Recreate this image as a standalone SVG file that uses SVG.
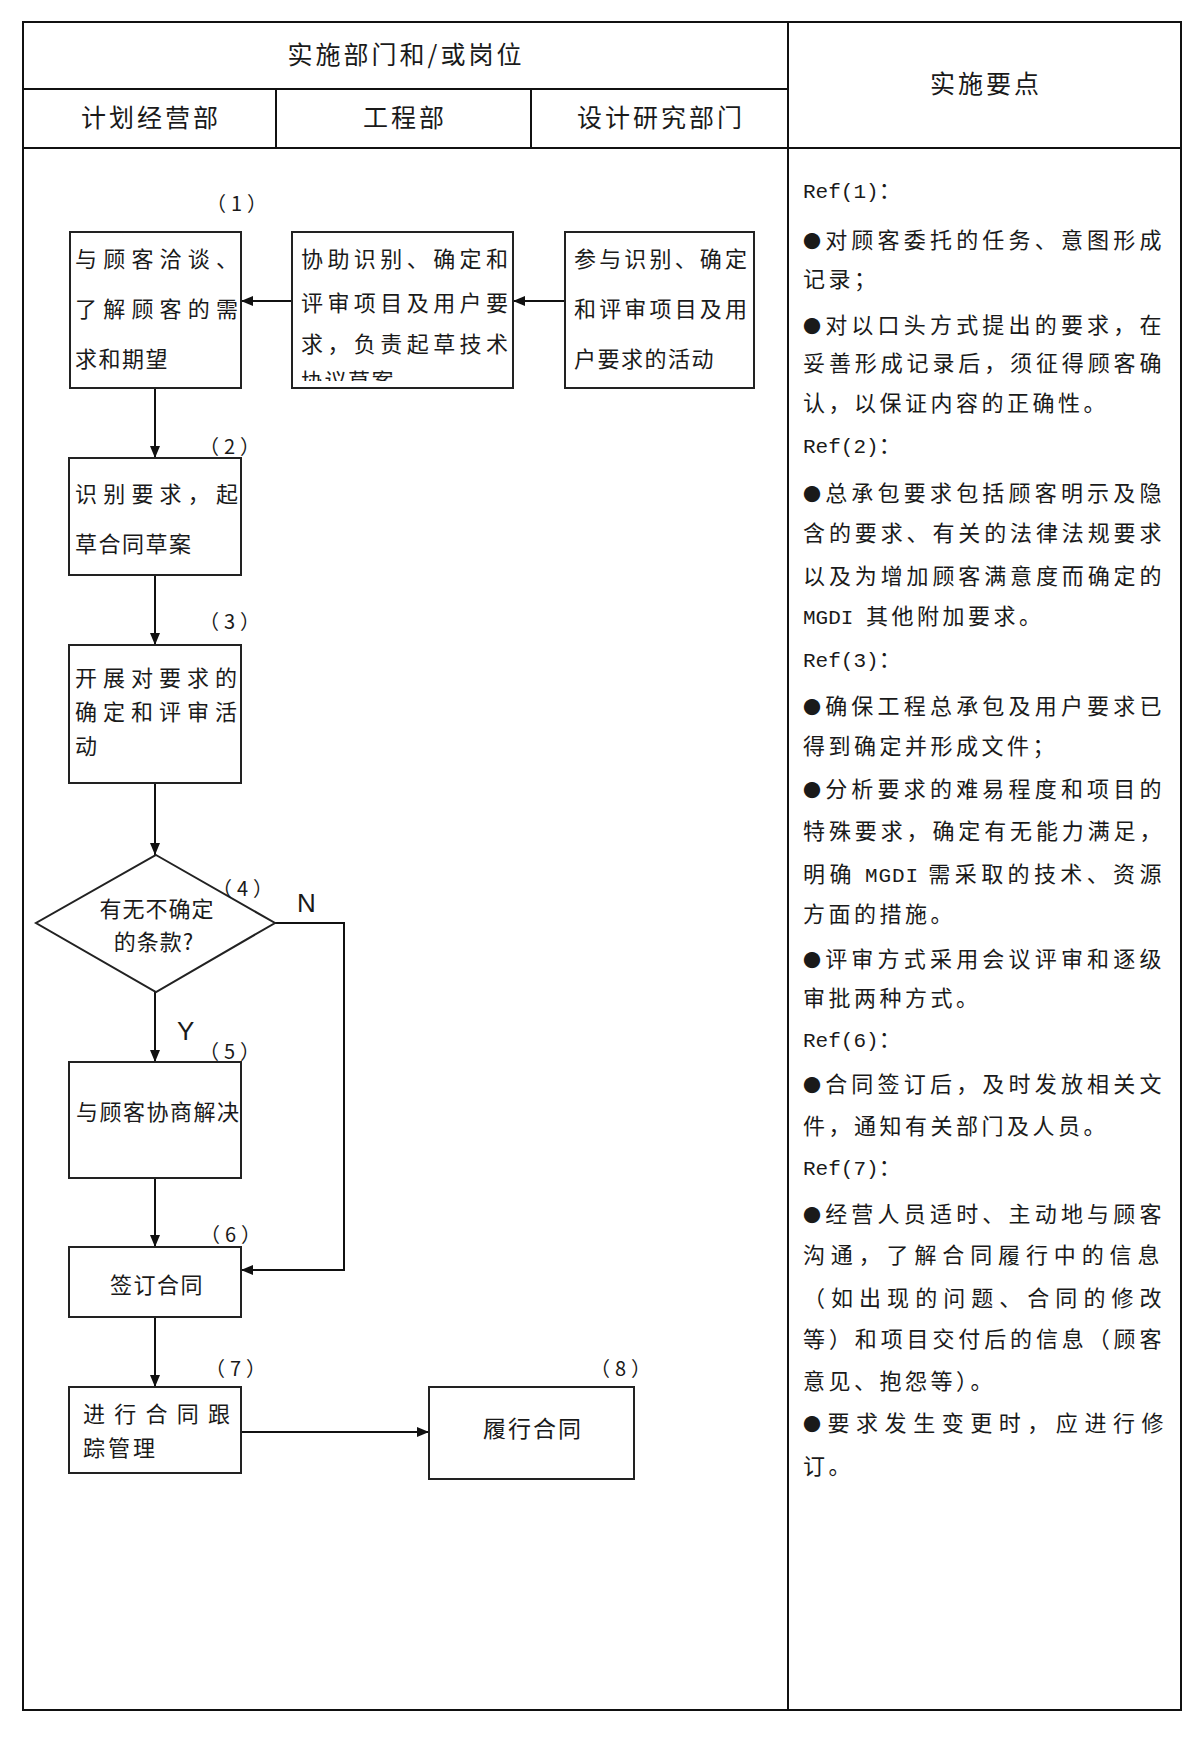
<svg xmlns="http://www.w3.org/2000/svg" width="1196" height="1740" viewBox="0 0 1196 1740">
<style>
.t{font-family:"Noto Sans CJK SC","Noto Sans",sans-serif;fill:#1a1a1a}
.hdr{font-size:25px;letter-spacing:3px}
.bx{font-size:22px;letter-spacing:1.5px}
.j{letter-spacing:0}
.note{font-size:22px;letter-spacing:3.5px}
.lbl{font-size:20px;letter-spacing:5px}
.b{font-size:18px}
.yn{font-family:"Liberation Sans",Arial,sans-serif;font-size:26px;fill:#1a1a1a}
.mono{font-family:"Liberation Mono",monospace;font-size:21px;letter-spacing:0}
.tbl{stroke:#111;stroke-width:2;fill:none}
.shape{fill:#fff;stroke:#222;stroke-width:2}
.conn{stroke:#111;stroke-width:2;fill:none;marker-end:url(#ah)}
</style>
<defs>
<marker id="ah" viewBox="0 0 12 10" refX="12" refY="5" markerWidth="12" markerHeight="10" markerUnits="userSpaceOnUse" orient="auto">
<path d="M0,0 L12,5 L0,10 z" fill="#111"/>
</marker>
<clipPath id="clip2"><rect x="292" y="232" width="221" height="149"/></clipPath>
</defs>
<rect width="1196" height="1740" fill="#fff"/>

<g id="table">
<rect class="tbl" x="23" y="22" width="1158" height="1688"/>
<line class="tbl" x1="23" y1="22" x2="1181" y2="22" stroke-width="3"/>
<line class="tbl" x1="23" y1="1710" x2="1181" y2="1710" stroke-width="3.5"/>
<line class="tbl" x1="788" y1="22" x2="788" y2="1710"/>
<line class="tbl" x1="23" y1="89" x2="788" y2="89"/>
<line class="tbl" x1="23" y1="148" x2="1181" y2="148"/>
<line class="tbl" x1="276" y1="89" x2="276" y2="148"/>
<line class="tbl" x1="531" y1="89" x2="531" y2="148"/>
<text class="t hdr" x="406" y="64" text-anchor="middle">实施部门和/或岗位</text>
<text class="t hdr" x="986" y="93" text-anchor="middle">实施要点</text>
<text class="t hdr" x="151" y="127" text-anchor="middle">计划经营部</text>
<text class="t hdr" x="405" y="127" text-anchor="middle">工程部</text>
<text class="t hdr" x="661" y="127" text-anchor="middle">设计研究部门</text>
</g>

<g id="connectors">
<line class="conn" x1="292" y1="301" x2="241" y2="301"/>
<line class="conn" x1="565" y1="301" x2="513" y2="301"/>
<line class="conn" x1="155" y1="388" x2="155" y2="458"/>
<line class="conn" x1="155" y1="575" x2="155" y2="645"/>
<line class="conn" x1="155" y1="783" x2="155" y2="855"/>
<line class="conn" x1="155" y1="992" x2="155" y2="1062"/>
<line class="conn" x1="155" y1="1178" x2="155" y2="1247"/>
<polyline class="conn" points="275,923 344,923 344,1270 241,1270"/>
<line class="conn" x1="155" y1="1317" x2="155" y2="1387"/>
<line class="conn" x1="241" y1="1432" x2="429" y2="1432"/>
<text class="yn" x="297" y="912">N</text>
<text class="yn" x="177" y="1040">Y</text>
</g>

<g id="n1">
<rect class="shape" x="70" y="232" width="171" height="156"/>
<text class="t lbl" x="239" y="211" text-anchor="middle">（1）</text>
<text class="t bx j" x="75" y="267" textLength="163" lengthAdjust="spacing">与顾客洽谈、</text>
<text class="t bx j" x="75" y="317" textLength="163" lengthAdjust="spacing">了解顾客的需</text>
<text class="t bx" x="75" y="367">求和期望</text>
</g>

<g id="n1b">
<rect class="shape" x="292" y="232" width="221" height="156"/>
<text class="t bx j" x="301" y="267" textLength="207" lengthAdjust="spacing">协助识别、确定和</text>
<text class="t bx j" x="301" y="311" textLength="207" lengthAdjust="spacing">评审项目及用户要</text>
<text class="t bx j" x="301" y="352" textLength="207" lengthAdjust="spacing">求，负责起草技术</text>
<text class="t bx" x="301" y="389" clip-path="url(#clip2)">协议草案</text>
</g>

<g id="n1c">
<rect class="shape" x="565" y="232" width="189" height="156"/>
<text class="t bx j" x="574" y="267" textLength="173" lengthAdjust="spacing">参与识别、确定</text>
<text class="t bx j" x="574" y="317" textLength="173" lengthAdjust="spacing">和评审项目及用</text>
<text class="t bx" x="574" y="367">户要求的活动</text>
</g>

<g id="n2">
<rect class="shape" x="69" y="458" width="172" height="117"/>
<text class="t lbl" x="232" y="454" text-anchor="middle">（2）</text>
<text class="t bx j" x="75" y="502" textLength="163" lengthAdjust="spacing">识别要求，起</text>
<text class="t bx" x="75" y="552">草合同草案</text>
</g>

<g id="n3">
<rect class="shape" x="69" y="645" width="172" height="138"/>
<text class="t lbl" x="232" y="629" text-anchor="middle">（3）</text>
<text class="t bx j" x="75" y="686" textLength="162" lengthAdjust="spacing">开展对要求的</text>
<text class="t bx j" x="75" y="720" textLength="162" lengthAdjust="spacing">确定和评审活</text>
<text class="t bx" x="75" y="754">动</text>
</g>

<g id="n4">
<polygon class="shape" points="156,855 275,923 156,992 36,923"/>
<text class="t lbl" x="245" y="896" text-anchor="middle">（4）</text>
<text class="t bx" x="157" y="917" text-anchor="middle" style="letter-spacing:1px">有无不确定</text>
<text class="t bx" x="154" y="950" text-anchor="middle" style="letter-spacing:1px">的条款?</text>
</g>

<g id="n5">
<rect class="shape" x="69" y="1062" width="172" height="116"/>
<text class="t lbl" x="232" y="1059" text-anchor="middle">（5）</text>
<text class="t bx j" x="76" y="1120" textLength="163" lengthAdjust="spacing">与顾客协商解决</text>
</g>

<g id="n6">
<rect class="shape" x="69" y="1247" width="172" height="70"/>
<text class="t lbl" x="233" y="1242" text-anchor="middle">（6）</text>
<text class="t bx" x="157" y="1293" text-anchor="middle">签订合同</text>
</g>

<g id="n7">
<rect class="shape" x="69" y="1387" width="172" height="86"/>
<text class="t lbl" x="238" y="1376" text-anchor="middle">（7）</text>
<text class="t bx j" x="83" y="1422" textLength="147" lengthAdjust="spacing">进行合同跟</text>
<text class="t bx" x="83" y="1456" style="letter-spacing:3px">踪管理</text>
</g>

<g id="n8">
<rect class="shape" x="429" y="1387" width="205" height="92"/>
<text class="t lbl" x="623" y="1376" text-anchor="middle">（8）</text>
<text class="t bx" x="533" y="1437" text-anchor="middle" style="font-size:23px;letter-spacing:2px">履行合同</text>
</g>

<g id="notes">
<text class="t note" x="803" y="198"><tspan class="mono">Ref(1)</tspan>：</text>
<text class="t note j" x="803" y="248" textLength="362" lengthAdjust="spacing"><tspan class="b">●</tspan>对顾客委托的任务、意图形成</text>
<text class="t note" x="803" y="287">记录；</text>
<text class="t note j" x="803" y="333" textLength="362" lengthAdjust="spacing"><tspan class="b">●</tspan>对以口头方式提出的要求，在</text>
<text class="t note j" x="803" y="371" textLength="362" lengthAdjust="spacing">妥善形成记录后，须征得顾客确</text>
<text class="t note" x="803" y="411">认，以保证内容的正确性。</text>
<text class="t note" x="803" y="453"><tspan class="mono">Ref(2)</tspan>：</text>
<text class="t note j" x="803" y="501" textLength="362" lengthAdjust="spacing"><tspan class="b">●</tspan>总承包要求包括顾客明示及隐</text>
<text class="t note j" x="803" y="541" textLength="362" lengthAdjust="spacing">含的要求、有关的法律法规要求</text>
<text class="t note j" x="803" y="584" textLength="362" lengthAdjust="spacing">以及为增加顾客满意度而确定的</text>
<text class="t note" x="803" y="624"><tspan class="mono">MGDI </tspan>其他附加要求。</text>
<text class="t note" x="803" y="667"><tspan class="mono">Ref(3)</tspan>：</text>
<text class="t note j" x="803" y="714" textLength="362" lengthAdjust="spacing"><tspan class="b">●</tspan>确保工程总承包及用户要求已</text>
<text class="t note" x="803" y="754">得到确定并形成文件；</text>
<text class="t note j" x="803" y="797" textLength="362" lengthAdjust="spacing"><tspan class="b">●</tspan>分析要求的难易程度和项目的</text>
<text class="t note j" x="803" y="839" textLength="362" lengthAdjust="spacing">特殊要求，确定有无能力满足，</text>
<text class="t note j" x="803" y="882" textLength="362" lengthAdjust="spacing">明确 <tspan class="mono">MGDI</tspan> 需采取的技术、资源</text>
<text class="t note" x="803" y="922">方面的措施。</text>
<text class="t note j" x="803" y="967" textLength="362" lengthAdjust="spacing"><tspan class="b">●</tspan>评审方式采用会议评审和逐级</text>
<text class="t note" x="803" y="1006">审批两种方式。</text>
<text class="t note" x="803" y="1047"><tspan class="mono">Ref(6)</tspan>：</text>
<text class="t note j" x="803" y="1092" textLength="362" lengthAdjust="spacing"><tspan class="b">●</tspan>合同签订后，及时发放相关文</text>
<text class="t note" x="803" y="1134">件，通知有关部门及人员。</text>
<text class="t note" x="803" y="1175"><tspan class="mono">Ref(7)</tspan>：</text>
<text class="t note j" x="803" y="1222" textLength="362" lengthAdjust="spacing"><tspan class="b">●</tspan>经营人员适时、主动地与顾客</text>
<text class="t note j" x="803" y="1263" textLength="360" lengthAdjust="spacing">沟通，了解合同履行中的信息</text>
<text class="t note j" x="803" y="1306" textLength="362" lengthAdjust="spacing">（如出现的问题、合同的修改</text>
<text class="t note j" x="803" y="1347" textLength="362" lengthAdjust="spacing">等）和项目交付后的信息（顾客</text>
<text class="t note" x="803" y="1389">意见、抱怨等）。</text>
<text class="t note j" x="803" y="1431" textLength="364" lengthAdjust="spacing"><tspan class="b">●</tspan>要求发生变更时，应进行修</text>
<text class="t note" x="803" y="1474">订。</text>
</g>
</svg>
